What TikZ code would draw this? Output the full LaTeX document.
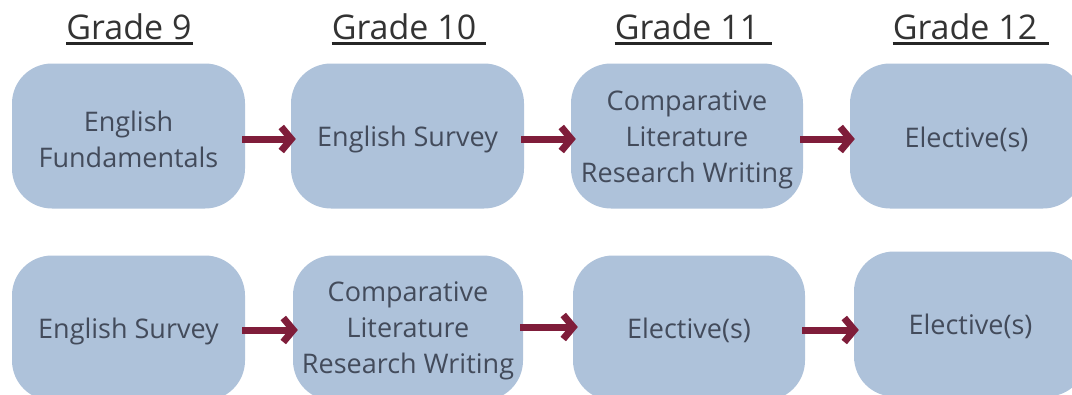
\documentclass[tikz,border=0pt]{standalone}
\usepackage{fontspec}
\setmainfont{Open Sans}
\usetikzlibrary{arrows.meta}
\definecolor{boxfill}{HTML}{AEC2DA}
\definecolor{arrred}{HTML}{7F1D3A}
\definecolor{txt}{HTML}{434B5B}
\definecolor{hdr}{HTML}{333333}
\tikzset{
  course/.style={rectangle, rounded corners=40pt, fill=boxfill,
    minimum width=233pt, minimum height=145pt, inner sep=0pt},
  ctext/.style={align=center, inner sep=0pt, text=txt,
    font=\fontsize{27}{36}\selectfont},
  hdrtext/.style={anchor=base, inner sep=0pt, text=hdr, font=\fontsize{34}{40}\selectfont},
  uline/.style={draw=black!85, line width=2.6pt},
  arr/.style={draw=arrred, line width=7pt,
    -{Straight Barb[length=10pt,width=24pt,line join=miter]}, shorten <=-3pt, shorten >=-5pt}
}
\begin{document}
\begin{tikzpicture}[x=1pt,y=-1pt]
\useasboundingbox (0,0) rectangle (1072,394);
% headers
\node[hdrtext] (h1) at (129,39) {Grade 9};
\node[hdrtext] (h2) at (404,39) {Grade 10};
\node[hdrtext] (h3) at (687,39) {Grade 11};
\node[hdrtext] (h4) at (965,39) {Grade 12};
\draw[uline] ([yshift=-4.5pt]h1.base west) -- ([yshift=-4.5pt,xshift=1pt]h1.base east);
\draw[uline] ([yshift=-4.5pt]h2.base west) -- ([yshift=-4.5pt,xshift=10pt]h2.base east);
\draw[uline] ([yshift=-4.5pt]h3.base west) -- ([yshift=-4.5pt,xshift=13pt]h3.base east);
\draw[uline] ([yshift=-4.5pt]h4.base west) -- ([yshift=-4.5pt,xshift=12pt]h4.base east);
% top row
\node[course] (a1) at (128.5,136) {};
\node[course] (a2) at (407.5,136) {};
\node[course, minimum width=232pt] (a3) at (687,136) {};
\node[course] (a4) at (966.5,136) {};
\node[ctext] (ta1) at ([yshift=-3.5pt]a1.center) {English\\Fundamentals};
\node[ctext] (ta2) at ([yshift=-3.5pt]a2.center) {English Survey};
\node[ctext] (ta3) at ([yshift=-3.5pt]a3.center) {Comparative\\Literature\\Research Writing};
\node[ctext] (ta4) at ([yshift=-3.5pt]a4.center) {Elective(s)};
% bottom row
\node[course] (b1) at (128.5,328) {};
\node[course, minimum width=230pt] (b2) at (408,328) {};
\node[course, minimum width=232pt] (b3) at (689,328) {};
\node[course] (b4) at (970.5,324) {};
\node[ctext] (tb1) at ([yshift=-3.5pt]b1.center) {English Survey};
\node[ctext] (tb2) at ([yshift=-2.5pt]b2.center) {Comparative\\Literature\\Research Writing};
\node[ctext] (tb3) at ([yshift=-2pt]b3.center) {Elective(s)};
\node[ctext] (tb4) at ([yshift=-2pt]b4.center) {Elective(s)};
% arrows
\draw[arr] ([yshift=-3pt]a1.east) -- ([yshift=-3pt]a2.west);
\draw[arr] ([yshift=-3pt]a2.east) -- ([yshift=-3pt]a3.west);
\draw[arr] ([yshift=-3pt]a3.east) -- ([yshift=-3pt]a4.west);
\draw[arr] ([yshift=-2pt]b1.east) -- ([yshift=-2pt]b2.west);
\draw[arr] ([yshift=1pt]b2.east) -- ([yshift=1pt]b3.west);
\draw[arr] ([yshift=-2pt]b3.east) -- ([yshift=-2pt]b4.west |- b3.east);
\end{tikzpicture}
\end{document}
